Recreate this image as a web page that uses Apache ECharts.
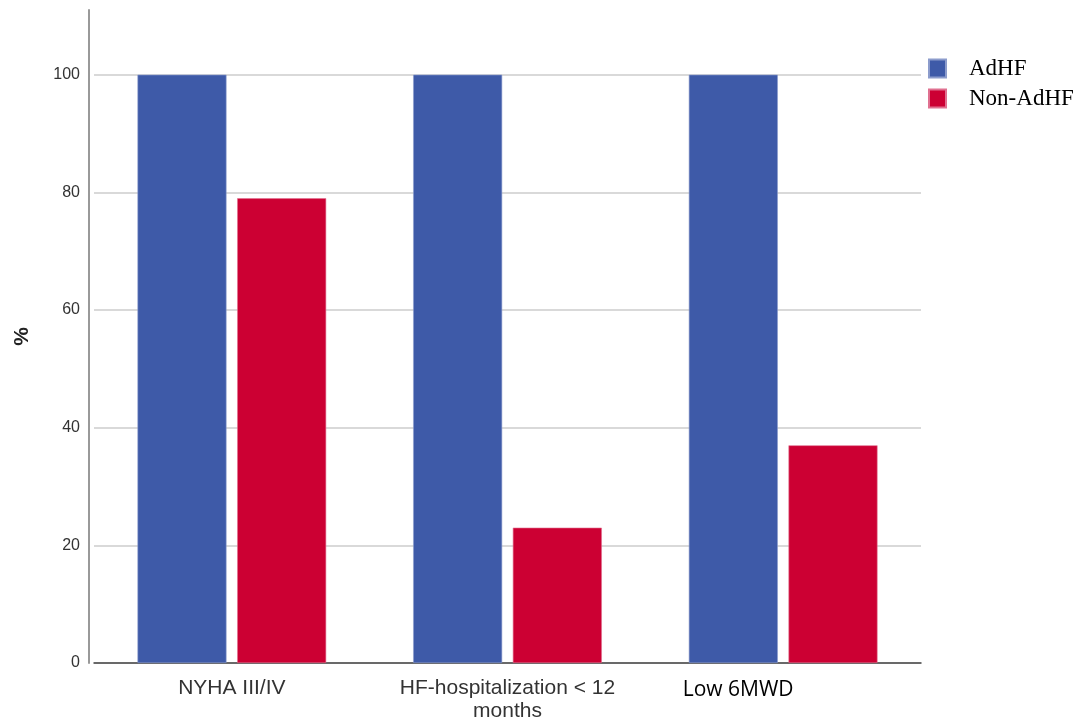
<!DOCTYPE html>
<html>
<head>
<meta charset="utf-8">
<script src="https://cdn.jsdelivr.net/npm/echarts@6/dist/echarts.min.js"></script>
<style>html,body{margin:0;padding:0;background:#fff;}#c{width:1080px;height:727px;}</style>
</head>
<body>
<div id="c"></div>
<script>
const categories = ['NYHA III/IV', 'HF-hospitalization < 12\nmonths', 'Low 6MWD'];
const seriesNames = ['AdHF', 'Non-AdHF'];
const adhf = [100, 100, 100];
const nonAdhf = [79, 23, 37];
const yTicks = [0, 20, 40, 60, 80, 100];

const chart = echarts.init(document.getElementById('c'));
chart.setOption({
  animation: false,
  backgroundColor: '#fff',
  grid: { left: 94, right: 159, top: 10, bottom: 64, containLabel: false },
  legend: {
    orient: 'vertical', left: 923, top: 52, itemWidth: 17, itemHeight: 18, itemGap: 7,
    icon: 'rect',
    textStyle: { fontFamily: 'Liberation Serif', fontSize: 23, lineHeight: 18, color: '#000', padding: [0, 0, 0, 18] },
    data: seriesNames
  },
  xAxis: {
    type: 'category', data: categories,
    axisTick: { show: false },
    axisLine: { lineStyle: { color: '#444', width: 1.5 } },
    axisLabel: {
      interval: 0, hideOverlap: false,
      margin: 14, color: '#333', fontFamily: 'Liberation Sans', fontSize: 21, lineHeight: 23,
      formatter: function (v) {
        if (v === 'Low 6MWD') return '{c|' + v + '}';
        return v;
      },
      rich: { c: { fontFamily: 'Open Sans', fontSize: 21, color: '#000', padding: [4, 90, 0, 0] } }
    }
  },
  yAxis: {
    type: 'value', min: 0, max: 111, interval: 20, offset: 5,
    name: '%', nameLocation: 'middle', nameGap: 56, nameRotate: 90,
    nameTextStyle: { fontFamily: 'Liberation Sans', fontWeight: 'bold', fontSize: 21, color: '#222' },
    axisLine: { show: true, lineStyle: { color: '#999', width: 2 } },
    axisTick: { show: false },
    axisLabel: {
      margin: 9, color: '#333', fontFamily: 'Liberation Sans', fontSize: 16, showMaxLabel: false,
      formatter: function (v) { return yTicks.indexOf(v) >= 0 ? String(v) : ''; }
    },
    splitLine: { show: true, showMaxLine: false, lineStyle: { color: '#ccc', width: 1.5 } }
  },
  series: [
    { name: seriesNames[0], type: 'bar', data: adhf, barWidth: 89, barGap: '12%',
      itemStyle: { color: '#3E5AA8', borderColor: '#8c9ccc', borderWidth: 0.6 } },
    { name: seriesNames[1], type: 'bar', data: nonAdhf, barWidth: 89, barGap: '12%',
      itemStyle: { color: '#CC0033', borderColor: '#e07090', borderWidth: 0.6 } }
  ]
});
</script>
</body>
</html>
